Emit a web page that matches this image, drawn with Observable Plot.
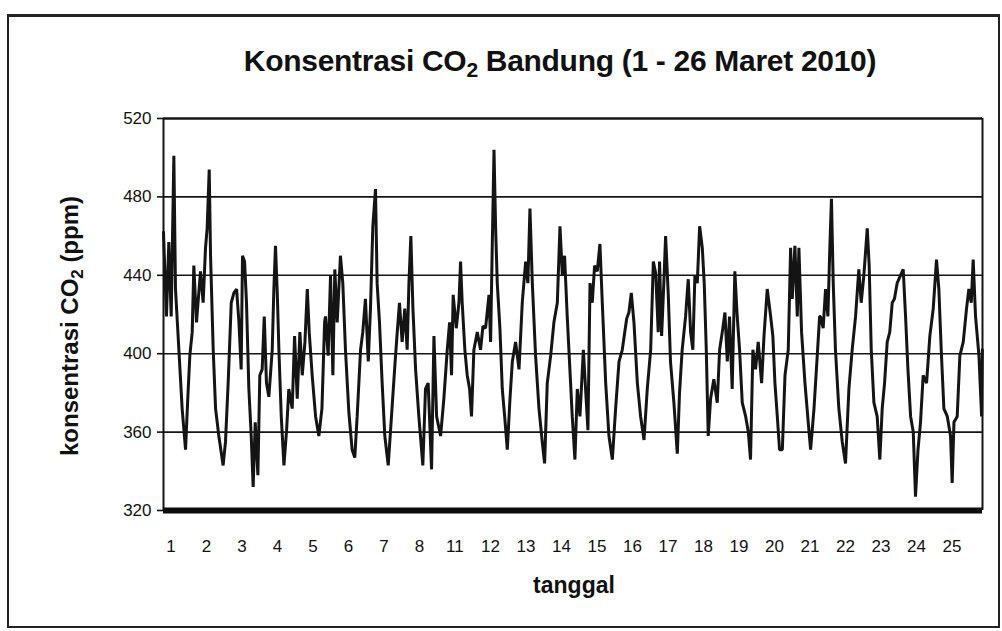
<!DOCTYPE html>
<html>
<head>
<meta charset="utf-8">
<script src="https://cdn.jsdelivr.net/npm/d3@7"></script>
<script src="https://cdn.jsdelivr.net/npm/@observablehq/plot@0.6"></script>
<style>
  body { margin: 0; background: #fff; }
  #wrap { position: relative; width: 1002px; height: 631px; overflow: hidden; font-family: "Liberation Sans", Arial, sans-serif; color: #111; }
  #frame { position: absolute; left: 7px; top: 14px; width: 993px; height: 614px; border: 2px solid #222; border-top-width: 3px; box-sizing: border-box; }
  #title { position: absolute; left: 560px; top: 61px; transform: translate(-50%, -50%); white-space: nowrap; font-weight: bold; font-size: 30px; letter-spacing: -0.3px; }
  #ylab { position: absolute; left: 70px; top: 326px; transform: translate(-50%, -50%) rotate(-90deg); white-space: nowrap; font-weight: bold; font-size: 24px; }
  #xlab { position: absolute; left: 574px; top: 585px; transform: translate(-50%, -50%); font-weight: bold; font-size: 23px; }
  #chart { position: absolute; left: 0; top: 0; }
  sub { font-size: 0.7em; vertical-align: -0.3em; line-height: 0; }
</style>
</head>
<body>
<div id="wrap">
  <div id="frame"></div>
  <div id="chart"></div>
  <div id="title">Konsentrasi CO<sub>2</sub> Bandung (1 - 26 Maret 2010)</div>
  <div id="ylab">konsentrasi CO<sub>2</sub> (ppm)</div>
  <div id="xlab">tanggal</div>
</div>
<script>
// Time since start of record (hours) and CO2 concentration (ppm)
const hours = [
  0,2.0,3.6,5.2,7.0,8.1,10.4,12.6,14.9,16.4,17.8,19.4,20.5,22.3,25.0,26.8,28.4,29.5,30.9,31.8,
  33.6,35.2,37.4,40.3,41.9,43.7,45.8,47.6,49.4,51.0,52.5,53.4,54.8,56.1,57.7,59.3,60.6,62.0,63.8,65.1,
  66.7,68.1,69.6,71.2,73.5,74.6,75.7,76.9,78.0,79.6,81.4,83.2,84.7,87.0,88.6,90.4,92.2,93.8,95.6,97.2,
  98.5,100.5,102.8,105.0,107.1,108.9,
  109.5,111.3,112.9,114.5,115.8,117.4,119.6,121.2,123.0,125.3,127.5,129.3,130.9,133.2,134.7,136.5,138.4,139.9,
  141.5,143.3,144.4,146.0,147.8,149.6,151.9,154.1,156.4,158.0,159.5,161.3,163.1,164.7,165.9,167.2,168.6,170.4,
  172.6,175.3,177.1,178.9,181.2,182.8,184.6,187.3,189.5,191.8,193.4,194.7,195.8,197.9,199.7,200.8,201.9,203.7,
  205.3,206.9,208.2,209.8,212.1,214.3,215.9,217.7,220.0,
  221.1,222.2,223.4,224.5,225.6,227.4,229.0,230.6,232.4,234.2,235.8,238.0,240.3,242.5,244.8,246.3,247.7,249.3,
  251.5,253.8,256.0,257.6,259.4,261.7,263.9,266.2,268.0,269.6,271.1,272.9,274.7,276.3,278.1,279.7,281.5,283.8,
  285.3,286.9,288.3,289.8,291.4,293.2,295.0,296.6,298.9,301.1,303.4,305.6,307.9,310.1,313.1,314.6,316.2,318.0,
  320.3,322.5,324.8,327.0,329.3,331.1,332.7,
  334.4,335.3,336.7,338.2,339.4,341.2,342.7,345.0,347.3,348.8,350.6,352.9,354.7,356.3,357.8,359.2,360.8,362.4,
  364.2,365.5,366.9,368.2,369.8,372.0,374.3,375.9,377.7,379.5,381.1,382.6,384.4,386.2,387.8,389.4,391.2,393.5,
  395.3,396.8,398.4,400.2,402.0,404.3,405.9,408.1,410.4,411.9,413.3,414.9,416.4,418.3,420.1,422.3,423.9,425.0,
  426.8,428.4,429.5,431.3,433.6,435.8,437.4,439.7,441.9,443.5,
  444.1,445.9,447.5,449.1,450.4,451.5,452.7,454.2,456.5,458.8,461.0,463.3,465.5,467.8,470.0,471.6,473.4,475.7,
  477.0,478.4,480.2,482.4,484.2,485.8,487.4,489.2,490.9,492.6,494.1,495.9,498.2,500.0,501.6,503.2,505.0,506.8,
  508.3,510.0,511.7,513.5,515.8,518.0,520.3,522.5,524.1,525.7,527.5,529.8,532.0,533.1,534.3,536.5,538.3,540.6,
  542.8,544.4,546.0,547.3,548.9,551.2,553.0,553.5
];
const co2 = [
  462,419,457,419,501,433,402,372,351,377,399,411,445,416,442,426,454,464,494,450,
  402,372,358,343,355,385,426,431,433,416,392,450,447,426,382,358,332,365,338,389,
  392,419,385,378,402,433,455,431,402,368,343,361,382,372,409,377,411,389,406,433,
  411,389,368,358,372,416,
  419,399,440,389,443,416,450,436,402,370,351,347,368,402,411,428,396,423,
  465,484,436,416,385,358,343,368,394,411,426,406,423,402,436,460,423,392,
  368,343,382,385,341,409,368,358,377,402,416,389,430,413,426,447,426,402,
  389,382,368,402,411,402,414,413,430,
  406,454,504,464,436,413,382,368,351,377,396,406,392,426,447,436,474,436,
  399,372,355,344,385,399,416,426,465,440,450,419,392,368,346,382,368,402,
  382,361,436,426,445,442,456,426,385,358,346,372,396,402,418,421,431,416,
  385,368,356,382,402,447,441,
  411,447,409,436,460,430,396,375,349,380,402,419,438,411,402,440,436,465,
  454,436,402,358,377,387,375,402,411,421,396,419,382,442,419,402,375,368,
  360,346,402,392,406,385,409,433,419,409,385,368,351,351,389,402,454,428,
  455,419,454,411,385,365,351,372,399,419,
  419,413,433,419,454,479,436,402,372,355,344,382,402,419,443,426,440,464,
  445,402,375,368,346,372,385,406,411,426,428,436,440,443,419,392,368,360,
  327,351,365,389,385,409,423,448,433,402,372,368,358,334,365,368,399,406,
  423,433,426,448,419,399,368,402
];
// Day labels shown on the x axis (days 9 and 10 absent in the original)
const dayLabels = [1,2,3,4,5,6,7,8,11,12,13,14,15,16,17,18,19,20,21,22,23,24,25];
const yTicks = [320,360,400,440,480,520];
const gridValues = [360,400,440,480];

const data = hours.map((h, i) => ({h, v: co2[i]}));
const tickHours = dayLabels.map((d, i) => 5 + 24 * i);
const xMax = 553.6;

const chart = Plot.plot({
  width: 1002,
  height: 631,
  marginLeft: 163,
  marginRight: 20,
  marginTop: 118,
  marginBottom: 121,
  style: { fontFamily: "Liberation Sans, Arial, sans-serif", fontSize: "17px", color: "#111", background: "transparent" },
  x: { domain: [0, xMax] },
  y: { domain: [320, 520] },
  marks: [
    Plot.ruleY(gridValues, { stroke: "#151515", strokeWidth: 1.6 }),
    Plot.ruleY([520], { stroke: "#151515", strokeWidth: 2.6 }),
    Plot.ruleX([0], { stroke: "#151515", strokeWidth: 2 }),
    Plot.ruleX([xMax], { stroke: "#151515", strokeWidth: 2 }),
    Plot.line(data, { x: "h", y: "v", stroke: "#141414", strokeWidth: 3, strokeLinejoin: "miter" }),
    Plot.ruleY([320], { stroke: "#0d0d0d", strokeWidth: 6 }),
    Plot.axisY({ ticks: yTicks, tickSize: 6, tickPadding: 6, label: null, fontSize: 17, strokeWidth: 1.6 }),
    Plot.axisX({ ticks: tickHours, tickFormat: (d, i) => String(dayLabels[i]), tickSize: 0, tickPadding: 29, label: null, fontSize: 17 })
  ]
});
document.getElementById("chart").appendChild(chart);
</script>
</body>
</html>
